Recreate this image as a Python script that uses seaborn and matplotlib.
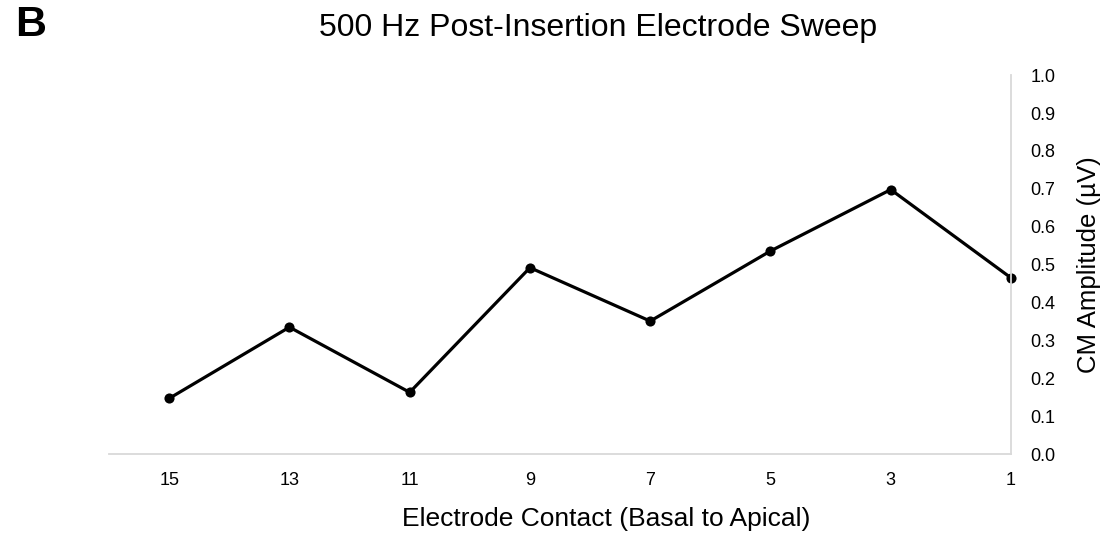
import matplotlib
matplotlib.use("Agg")
import matplotlib.pyplot as plt
import seaborn as sns
import pandas as pd

# Electrode contacts, ordered basal to apical, and CM amplitudes (µV)
contacts = ["15", "13", "11", "9", "7", "5", "3", "1"]
amplitudes = [0.147, 0.335, 0.163, 0.492, 0.351, 0.536, 0.698, 0.465]
y_ticks = [0.0, 0.1, 0.2, 0.3, 0.4, 0.5, 0.6, 0.7, 0.8, 0.9, 1.0]

sns.set_theme(style="white")
plt.rcParams["font.family"] = ["Liberation Sans", "DejaVu Sans"]

df = pd.DataFrame({"contact": contacts, "amplitude": amplitudes})

fig = plt.figure(figsize=(11.07, 5.33), dpi=100)
ax = fig.add_axes([0.0985, 0.148, 0.8148, 0.711])

sns.lineplot(data=df, x="contact", y="amplitude", sort=False, ax=ax,
             color="black", linewidth=2.3, marker="o", markersize=7.3,
             markeredgewidth=0, clip_on=False)

ax.set_xlim(-0.5, 7)
ax.set_ylim(0, 1.0)
ax.set_yticks(y_ticks)
ax.set_yticklabels([f"{v:.1f}" for v in y_ticks])

ax.yaxis.tick_right()
ax.yaxis.set_label_position("right")
ax.tick_params(axis="both", length=0, labelsize=13, colors="black")
ax.tick_params(axis="y", pad=14)
ax.tick_params(axis="x", pad=13)

for side in ["left", "top"]:
    ax.spines[side].set_visible(False)
for side in ["bottom", "right"]:
    ax.spines[side].set_color("#d9d9d9")
    ax.spines[side].set_linewidth(1.3)

ax.set_xlabel("Electrode Contact (Basal to Apical)", fontsize=19, color="black")
ax.xaxis.set_label_coords(0.551, -0.17)
ax.xaxis.label.set_va("center")
ax.set_ylabel("CM Amplitude (µV)", fontsize=18.5, color="black")
ax.yaxis.set_label_coords(1.087, 0.5)
ax.yaxis.label.set_va("center")

fig.text(0.540, 0.948, "500 Hz Post-Insertion Electrode Sweep",
         ha="center", va="center", fontsize=23, color="black")
fig.text(0.014, 0.953, "B", ha="left", va="center", fontsize=31,
         fontweight="bold", color="black")

fig.savefig("out.png", dpi=100, facecolor="white")
